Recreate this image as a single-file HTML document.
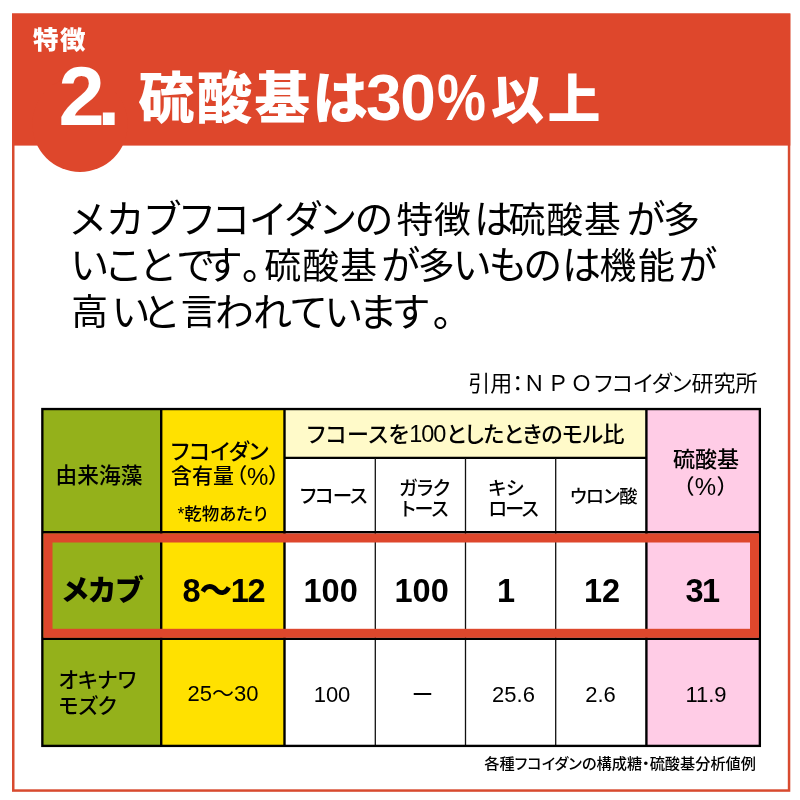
<!DOCTYPE html>
<html lang="ja">
<head>
<meta charset="utf-8">
<title>特徴2. 硫酸基は30%以上</title>
<style>
html,body{margin:0;padding:0;}
body{width:800px;height:800px;background:#fff;position:relative;overflow:hidden;
  font-family:"Liberation Sans","Noto Sans CJK JP",sans-serif;color:#000;}
#bg{position:absolute;left:0;top:0;width:800px;height:800px;}
.t{position:absolute;white-space:nowrap;line-height:1;font-feature-settings:"palt";}
.w{color:#fff;font-weight:700;}
.c{text-align:center;}
.b{font-weight:700;}
.m{font-weight:500;}
#bt{font-kerning:none;}
#bt span{line-height:0;}
#bt .k{font-size:36.8px;}
#bt .a{position:relative;top:0.5px;}
</style>
</head>
<body>
<svg id="bg" width="800" height="800" viewBox="0 0 800 800">
  <!-- outer frame -->
  <rect x="13.25" y="14.75" width="775.8" height="775.8" fill="#fff" stroke="#d84a2f" stroke-width="2.5"/>
  <!-- header band -->
  <rect x="12" y="13.5" width="778.3" height="132.1" fill="#de472c"/>
  <circle cx="80" cy="124.3" r="47.7" fill="#de472c"/>

  <!-- table fills -->
  <rect x="42" y="409" width="119" height="337" fill="#94b11b"/>
  <rect x="161" y="409" width="123.5" height="337" fill="#ffe100"/>
  <rect x="284" y="409" width="362" height="49" fill="#fffac9"/>
  <rect x="284" y="458" width="362" height="288" fill="#fff"/>
  <rect x="646" y="409" width="114" height="337" fill="#ffcce6"/>

  <!-- thin inner lines -->
  <g stroke="#111" stroke-width="1.3">
    <line x1="284" y1="457.9" x2="646" y2="457.9" stroke-width="2.1" stroke="#000"/>
    <line x1="375.3" y1="458" x2="375.3" y2="746"/>
    <line x1="465.5" y1="458" x2="465.5" y2="746"/>
    <line x1="555.7" y1="458" x2="555.7" y2="746"/>
  </g>
  <!-- thick lines -->
  <g stroke="#000" stroke-width="2.4">
    <line x1="161.2" y1="409" x2="161.2" y2="746"/>
    <line x1="284.5" y1="409" x2="284.5" y2="746"/>
    <line x1="646.4" y1="409" x2="646.4" y2="746"/>
    <line x1="42" y1="532.2" x2="760" y2="532.2"/>
    <line x1="42" y1="638.8" x2="760" y2="638.8"/>
  </g>
  <rect x="42.35" y="409.05" width="717.5" height="336.85" fill="none" stroke="#000" stroke-width="2.35"/>
  <!-- red highlight -->
  <rect x="48" y="538" width="706.5" height="95.3" fill="none" stroke="#de472c" stroke-width="9"/>
</svg>

<!-- header text -->
<div class="t w" style="left:33px;top:27.5px;font-size:25.5px;font-weight:900;letter-spacing:1.5px;">特徴</div>
<div class="t w" style="left:58.5px;top:55px;font-size:83px;letter-spacing:-7.5px;">2.</div>
<div class="t w" style="left:138.5px;top:72px;font-size:55.5px;letter-spacing:2.5px;font-weight:900;">硫酸基は</div>
<div class="t w" style="left:366px;top:66px;font-size:64px;letter-spacing:-1.3px;">30</div>
<div class="t w" style="left:437px;top:66px;font-size:64px;transform:scaleX(.86);transform-origin:0 0;">%</div>
<div class="t w" style="left:491px;top:73.5px;font-size:53px;letter-spacing:3.5px;font-weight:900;">以上</div>

<!-- body text -->
<div class="t" id="bt" style="left:70.0px;top:196.9px;font-size:39.0px;line-height:46.1px;"><span class="a" style="margin-left:0.5px;letter-spacing:2.19px">メカブ</span><span class="a" style="margin-left:-0.9px;letter-spacing:0.05px">フコイダン</span><span class="a">の</span><span class="k" style="margin-left:3.8px;letter-spacing:0.70px">特徴</span><span class="a" style="margin-left:2.5px">は</span><span class="k" style="margin-left:-4.5px;letter-spacing:0.95px">硫酸基</span><span class="a" style="margin-left:5.0px">が</span><span class="k" style="margin-left:-1.7px">多</span><br><span class="a" style="margin-left:1.0px;letter-spacing:-0.99px">いこと</span><span class="a" style="margin-left:4.5px;letter-spacing:-7.55px">です</span><span class="a" style="margin-left:8.0px">。</span><span class="k" style="margin-left:3.0px;letter-spacing:1.20px">硫酸基</span><span class="a" style="margin-left:3.2px">が</span><span class="k" style="margin-left:-1.6px">多</span><span class="a" style="margin-left:-1.3px;letter-spacing:-1.62px">いもの</span><span class="a" style="margin-left:2.0px">は</span><span class="k" style="margin-left:-1.4px;letter-spacing:1.60px">機能</span><span class="a" style="margin-left:2.3px">が</span><br><span class="k" style="margin-left:1.2px">高</span><span class="a" style="margin-left:4.3px;letter-spacing:-6.08px">いと</span><span class="k" style="margin-left:9.5px">言</span><span class="a" style="margin-left:-3.1px;letter-spacing:-1.16px">われて</span><span class="a" style="margin-left:-0.3px;letter-spacing:-2.10px">います</span><span class="a" style="margin-left:5.7px">。</span></div>
<!-- /body text -->

<div class="t" style="right:42.5px;top:373px;font-size:22px;">引用：<span style="font-feature-settings:normal;letter-spacing:1.6px">ＮＰＯ</span>フコイダン研究所</div>

<!-- table header -->
<div class="t c m" style="left:40px;width:118px;top:465px;font-size:21.7px;">由来海藻</div>
<div class="t m" style="left:171px;top:441px;font-size:22px;">フコイダン</div>
<div class="t m" style="left:171px;top:465px;font-size:21px;">含有量<span style="letter-spacing:0.5px;margin-left:2px">（<span style="font-size:24px;line-height:0;position:relative;top:1.5px">%</span>）</span></div>
<div class="t m" style="left:177.5px;top:506px;font-size:17.5px;">*乾物あたり</div>
<div class="t c m" style="left:284.5px;width:362px;top:424px;font-size:22px;letter-spacing:-0.17px;"><span style="letter-spacing:0.5px">フコースを</span><span style="font-size:23.5px;line-height:0;letter-spacing:-1.1px;">100</span><span style="letter-spacing:-0.5px;margin-left:1px">としたときのモル比</span></div>
<div class="t m" style="left:300px;top:487px;font-size:19.5px;letter-spacing:-1px;">フコース</div>
<div class="t m" style="left:399px;top:477.5px;font-size:19px;line-height:21.5px;letter-spacing:-0.3px;">ガラク<br><span style="margin-left:2px;letter-spacing:-1px">トース</span></div>
<div class="t m" style="left:488.5px;top:477.5px;font-size:19px;line-height:21.5px;letter-spacing:-0.3px;">キシ<br><span style="letter-spacing:-1.6px">ロース</span></div>
<div class="t m" style="left:570px;top:487.5px;font-size:18.3px;letter-spacing:-0.4px;">ウロン酸</div>
<div class="t c m" style="left:649px;width:114px;top:449px;font-size:22px;">硫酸基</div>
<div class="t c m" style="left:649px;width:114px;top:475.5px;font-size:21px;letter-spacing:1px;">（<span style="font-size:24px;line-height:0;position:relative;top:1.5px">%</span>）</div>

<!-- row 1 -->
<div class="t" style="left:62.5px;top:577px;font-size:29px;font-weight:900;letter-spacing:0.3px;">メカブ</div>
<div class="t b" style="left:182.5px;top:574.5px;font-size:32.5px;letter-spacing:-1.2px;">8<span style="font-weight:900">〜</span>12</div>
<div class="t b" style="left:303.5px;top:574.5px;font-size:32.5px;">100</div>
<div class="t b" style="left:394.5px;top:574.5px;font-size:32.5px;">100</div>
<div class="t b" style="left:497px;top:574.5px;font-size:32.5px;">1</div>
<div class="t b" style="left:584px;top:574.5px;font-size:32.5px;">12</div>
<div class="t b" style="left:685.5px;top:574.5px;font-size:32.5px;letter-spacing:-1.5px;">31</div>

<!-- row 2 -->
<div class="t m" style="left:58.5px;top:667px;font-size:21px;line-height:25.5px;">オキナワ<br>モズク</div>
<div class="t c" style="left:161px;width:124px;top:683px;font-size:22px;">25〜30</div>
<div class="t c" style="left:286.5px;width:91px;top:683.5px;font-size:22px;">100</div>
<div class="t c" style="left:377.5px;width:90px;top:683.5px;font-size:22px;">ー</div>
<div class="t c" style="left:468.5px;width:90px;top:683.5px;font-size:22px;">25.6</div>
<div class="t c" style="left:555px;width:91px;top:683.5px;font-size:22px;">2.6</div>
<div class="t c" style="left:649px;width:114px;top:683.5px;font-size:22px;">11.9</div>

<div class="t m" style="right:44px;top:755.5px;font-size:15.2px;">各種フコイダンの構成糖・硫酸基分析値例</div>
</body>
</html>
